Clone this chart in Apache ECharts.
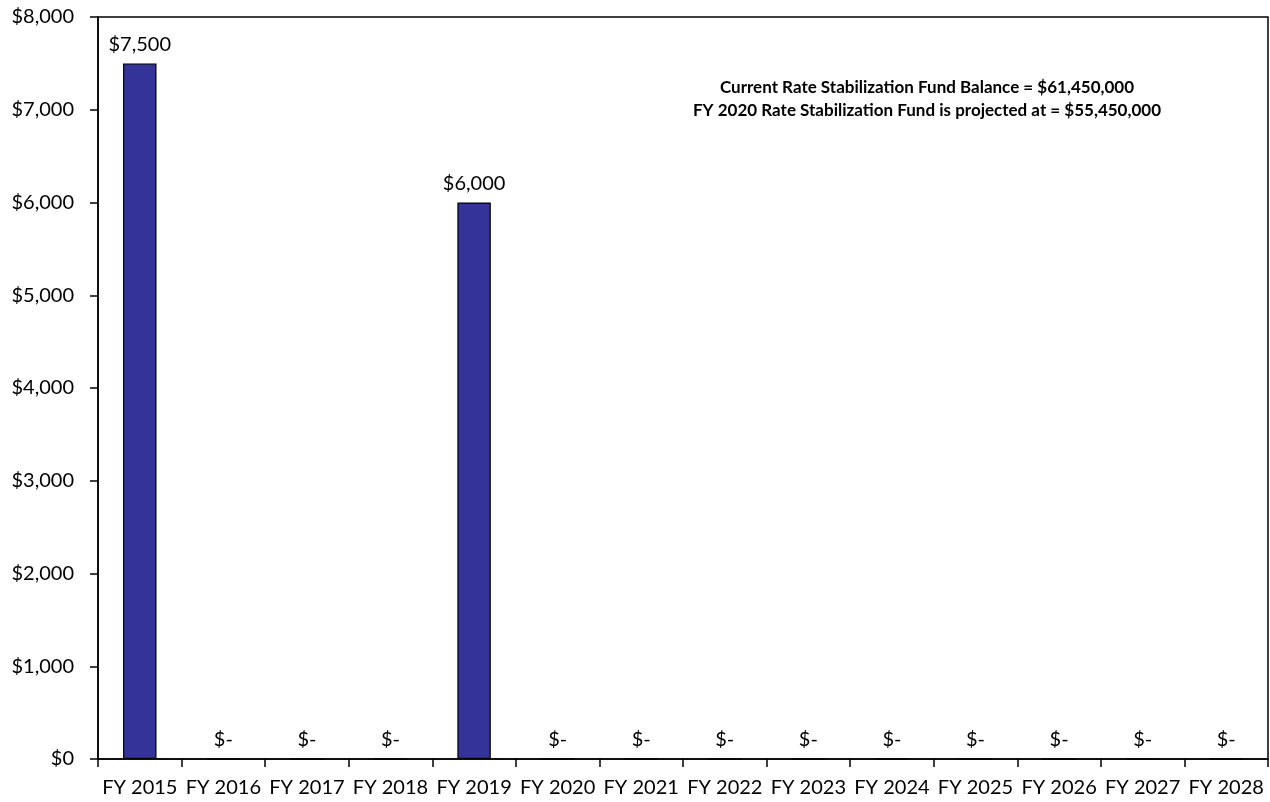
<!DOCTYPE html>
<html>
<head>
<meta charset="utf-8">
<script src="https://cdn.jsdelivr.net/npm/echarts@6/dist/echarts.min.js"></script>
<style>
  html, body { margin: 0; padding: 0; background: #fff; }
  #chart { width: 1270px; height: 802px; }
</style>
</head>
<body>
<div id="chart"></div>
<script>
// Rate stabilization fund draws by fiscal year ($ thousands)
const categories = ['FY 2015', 'FY 2016', 'FY 2017', 'FY 2018', 'FY 2019', 'FY 2020', 'FY 2021',
  'FY 2022', 'FY 2023', 'FY 2024', 'FY 2025', 'FY 2026', 'FY 2027', 'FY 2028'];
const draws = [7500, 0, 0, 0, 6000, 0, 0, 0, 0, 0, 0, 0, 0, 0];
const noteLines = [
  'Current Rate Stabilization Fund Balance = $61,450,000',
  'FY 2020 Rate Stabilization Fund is projected at = $55,450,000'
];

const FONT = 'Lato, "Open Sans", sans-serif';
const money = v => '$' + v.toLocaleString('en-US');

const chart = echarts.init(document.getElementById('chart'));
chart.setOption({
  animation: false,
  grid: {
    left: 98, right: 2, top: 17, bottom: 43,
    show: true, borderColor: '#000', borderWidth: 1.5, backgroundColor: 'transparent'
  },
  xAxis: {
    type: 'category',
    data: categories,
    axisLine: { lineStyle: { color: '#000', width: 1.5 } },
    axisTick: { show: true, length: 8, lineStyle: { color: '#000', width: 1.5 } },
    axisLabel: { color: '#000', fontFamily: FONT, fontSize: 20, margin: 19, interval: 0 }
  },
  yAxis: {
    type: 'value',
    min: 0, max: 8000, interval: 1000,
    axisLine: { show: true, lineStyle: { color: '#000', width: 1.5 } },
    axisTick: { show: true, length: 8, lineStyle: { color: '#000', width: 1.5 } },
    splitLine: { show: false },
    axisLabel: { color: '#000', fontFamily: FONT, fontSize: 20, margin: 24, formatter: money }
  },
  series: [{
    type: 'bar',
    data: draws,
    barWidth: '40%',
    itemStyle: { color: '#333399', borderColor: '#000', borderWidth: 1.2 },
    label: {
      show: true,
      position: 'top',
      distance: 9,
      color: '#000',
      fontFamily: FONT,
      fontSize: 20,
      formatter: p => p.value === 0 ? '$-' : money(p.value)
    }
  }],
  graphic: noteLines.map((t, i) => ({
    type: 'text',
    x: 927,
    y: 88 + i * 23,
    style: {
      text: t,
      textAlign: 'center', textVerticalAlign: 'middle',
      font: 'bold 17px ' + FONT,
      fill: '#000'
    }
  }))
});
</script>
</body>
</html>
